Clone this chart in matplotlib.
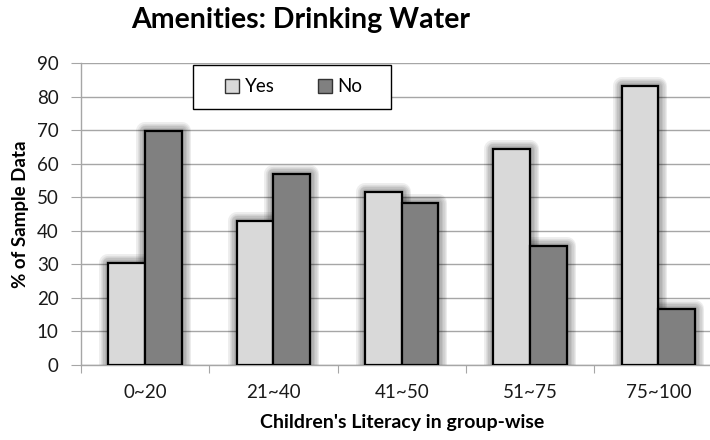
import matplotlib
matplotlib.use("Agg")
import matplotlib.pyplot as plt
import matplotlib.patheffects as pe
from matplotlib.patches import Rectangle
import numpy as np

categories = ["0~20", "21~40", "41~50", "51~75", "75~100"]
yes_values = [30.5, 43.0, 51.7, 64.4, 83.2]
no_values = [69.7, 57.0, 48.3, 35.6, 16.8]
y_ticks = [0, 10, 20, 30, 40, 50, 60, 70, 80, 90]

plt.rcParams["font.family"] = ["Lato", "DejaVu Sans"]

W, H = 710, 440
fig = plt.figure(figsize=(W / 100, H / 100), dpi=100)
ax = fig.add_axes([81 / W, 75 / H, 641.5 / W, 302 / H])

x = np.arange(len(categories))
w = 0.286

# soft shadow layer drawn underneath all bars
glow = [pe.Stroke(linewidth=lw, foreground="black", alpha=0.065, joinstyle="round")
        for lw in (13, 11, 9, 7, 5, 3)]
for vals, off in ((yes_values, -w / 2), (no_values, w / 2)):
    sh = ax.bar(x + off, vals, w, color="none", edgecolor="none", zorder=2)
    for p in sh:
        p.set_path_effects(glow)

ax.bar(x - w / 2, yes_values, w, color="#d9d9d9", edgecolor="black",
       linewidth=1.6, label="Yes", zorder=3)
ax.bar(x + w / 2, no_values, w, color="#808080", edgecolor="black",
       linewidth=1.6, label="No", zorder=3)

ax.set_xlim(-0.5, len(categories) - 0.5)
ax.set_ylim(0, 90)
ax.set_yticks(y_ticks)
ax.yaxis.grid(True, color="#a6a6a6", linewidth=1.0, zorder=0)
ax.set_axisbelow(True)

ax.set_xticks(np.arange(len(categories) + 1) - 0.5)
ax.set_xticklabels([])
ax.set_xticks(x, minor=True)
ax.set_xticklabels(categories, minor=True)
ax.tick_params(axis="x", which="major", length=6, color="#a6a6a6", direction="out")
ax.tick_params(axis="x", which="minor", length=0, pad=14, labelsize=13.5, labelcolor="#1a1a1a")
ax.tick_params(axis="y", length=7, color="#a6a6a6", pad=9, labelsize=13.5, labelcolor="#1a1a1a")

for s in ("top", "right"):
    ax.spines[s].set_visible(False)
for s in ("left", "bottom"):
    ax.spines[s].set_color("#a6a6a6")
    ax.spines[s].set_linewidth(1.0)

ax.set_ylabel("% of Sample Data", fontsize=13.5, fontweight="bold", labelpad=6)
ax.set_xlabel("Children's Literacy in group-wise", fontsize=14, fontweight="bold", labelpad=9)

fig.text(301 / W, 1 - 20 / H, "Amenities: Drinking Water", fontsize=20.5,
         fontweight="bold", ha="center", va="center")

# legend box
def to_axes(px, py):
    return (px - 81) / 641.5, (365 - py) / 302

lx0, ly1 = to_axes(192.7, 65)
lx1, ly0 = to_axes(391.3, 109)
ax.add_patch(Rectangle((lx0, ly0), lx1 - lx0, ly1 - ly0, transform=ax.transAxes,
                       facecolor="white", edgecolor="black", linewidth=1.0,
                       zorder=4.5, clip_on=False))
leg = ax.legend(loc="center", bbox_to_anchor=((lx0 + lx1) / 2 + 0.003, (ly0 + ly1) / 2),
                ncol=2, frameon=False, fontsize=13.5,
                handlelength=0.75, handleheight=0.75, columnspacing=2.3,
                handletextpad=0.3, borderaxespad=0)
for h in leg.legend_handles:
    h.set_linewidth(1.0)
    h.set_edgecolor("#333333")

fig.savefig("out.png", dpi=100)
